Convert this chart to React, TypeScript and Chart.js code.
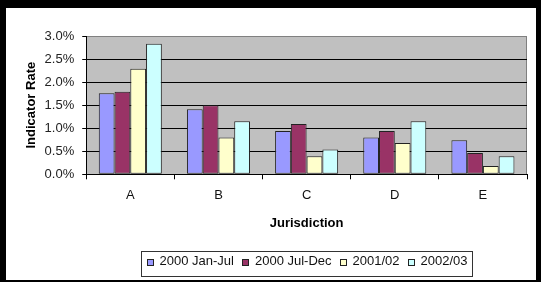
import React, { useEffect, useRef } from "react";
import { Chart, registerables } from "chart.js";

Chart.register(...registerables);

const FONT = '"Liberation Sans", Arial, Helvetica, sans-serif';

const categories = ["A", "B", "C", "D", "E"];
const seriesNames = ["2000 Jan-Jul", "2000 Jul-Dec", "2001/02", "2002/03"];
const janJul2000 = [1.76, 1.41, 0.94, 0.8, 0.74];
const julDec2000 = [1.79, 1.5, 1.09, 0.94, 0.46];
const fy2001 = [2.29, 0.8, 0.39, 0.68, 0.18];
const fy2002 = [2.83, 1.15, 0.54, 1.15, 0.39];
const yMin = 0;
const yMax = 3;
const yStep = 0.5;
const seriesColors = ["#9999FF", "#993366", "#FFFFCC", "#CCFFFF"];

const plotBg = {
  id: "plotBg",
  beforeDraw(chart: any) {
    const { ctx, chartArea: a } = chart;
    ctx.save();
    ctx.fillStyle = "#C0C0C0";
    ctx.fillRect(a.left, a.top, a.right - a.left, a.bottom - a.top);
    ctx.strokeStyle = "#808080";
    ctx.lineWidth = 1;
    ctx.beginPath();
    const r = Math.round(a.right) - 0.5;
    ctx.moveTo(r, a.top);
    ctx.lineTo(r, a.bottom);
    ctx.stroke();
    ctx.restore();
  },
};

const boxLegend = {
  id: "boxLegend",
  afterDraw(chart: any) {
    const ctx = chart.ctx;
    const ds = chart.data.datasets;
    ctx.save();
    ctx.font = `13px ${FONT}`;
    const pad = 5;
    const sq = 6;
    const gapText = 7;
    const gapItem = 8;
    const widths = ds.map((d: any) => ctx.measureText(d.label).width);
    const total =
      pad * 2 +
      widths.reduce((s: number, w: number) => s + w, 0) +
      ds.length * (sq + gapText) +
      (ds.length - 1) * gapItem;
    const a = chart.chartArea;
    const cx = (a.left + a.right) / 2;
    const left = Math.round(cx - total / 2) + 0.5;
    const top = Math.round(chart.scales.x.bottom + 19.7) + 0.5;
    const h = 25;
    const w = Math.round(total);
    ctx.fillStyle = "#FFFFFF";
    ctx.fillRect(left, top, w, h);
    ctx.strokeStyle = "#333333";
    ctx.lineWidth = 1;
    ctx.strokeRect(left, top, w, h);
    let x = left + pad;
    const midY = top + h / 2 - 2.5;
    ds.forEach((d: any, i: number) => {
      const sx = Math.round(x) + 0.5;
      const sy = Math.round(top + 7.5) + 0.5;
      ctx.fillStyle = d.backgroundColor;
      ctx.fillRect(sx, sy, sq, sq);
      ctx.strokeStyle = "#222222";
      ctx.strokeRect(sx, sy, sq, sq);
      x += sq + gapText;
      ctx.fillStyle = "#111111";
      ctx.textBaseline = "middle";
      ctx.textAlign = "left";
      ctx.fillText(d.label, x, midY);
      x += widths[i] + gapItem;
    });
    ctx.restore();
  },
};

export default function App() {
  const ref = useRef<HTMLCanvasElement | null>(null);

  useEffect(() => {
    if (!ref.current) return;
    const values = [janJul2000, julDec2000, fy2001, fy2002];
    const chart = new Chart(ref.current, {
      type: "bar",
      data: {
        labels: categories,
        datasets: seriesNames.map((name, i) => ({
          label: name,
          data: values[i],
          backgroundColor: seriesColors[i],
          borderColor: "#222222",
          borderWidth: 1,
          borderSkipped: false,
          categoryPercentage: 0.715,
          barPercentage: 1,
        })),
      },
      options: {
        animation: false,
        responsive: false,
        maintainAspectRatio: false,
        layout: { padding: { top: 28, right: 9, bottom: 48.5, left: 0 } },
        plugins: {
          legend: { display: false },
          tooltip: { enabled: false },
        },
        scales: {
          x: {
            offset: true,
            grid: {
              display: true,
              offset: true,
              drawOnChartArea: false,
              drawTicks: true,
              tickLength: 5,
              color: "#000000",
            },
            border: { display: true, color: "#000000", width: 1 },
            ticks: {
              color: "#111111",
              font: { family: FONT, size: 13 },
              padding: 8,
            },
            title: {
              display: true,
              text: "Jurisdiction",
              color: "#000000",
              font: { family: FONT, size: 13, weight: "bold" },
              padding: { top: 5, bottom: 0 },
            },
          },
          y: {
            min: yMin,
            max: yMax,
            grid: {
              color: (c: any) => (c.tick && c.tick.value === yMax ? "#808080" : "#000000"),
              tickColor: "#000000",
              tickLength: 4,
              drawTicks: true,
            },
            border: { display: true, color: "#000000", width: 1 },
            ticks: {
              stepSize: yStep,
              color: "#222222",
              font: { family: FONT, size: 13 },
              padding: 8,
              callback: (v: any) => Number(v).toFixed(1) + "%",
            },
            title: {
              display: true,
              text: "Indicator Rate",
              color: "#000000",
              font: { family: FONT, size: 13, weight: "bold" },
              padding: { top: 18, bottom: -3 },
            },
          },
        },
      },
      plugins: [plotBg, boxLegend],
    });
    return () => chart.destroy();
  }, []);

  return (
    <div
      style={{
        position: "fixed",
        left: 0,
        top: 0,
        width: 541,
        height: 282,
        background: "#000000",
      }}
    >
      <div
        style={{
          position: "absolute",
          left: 6,
          top: 8,
          width: 530,
          height: 272,
          background: "#FFFFFF",
        }}
      >
        <canvas ref={ref} width={530} height={272} style={{ display: "block" }} />
      </div>
    </div>
  );
}
